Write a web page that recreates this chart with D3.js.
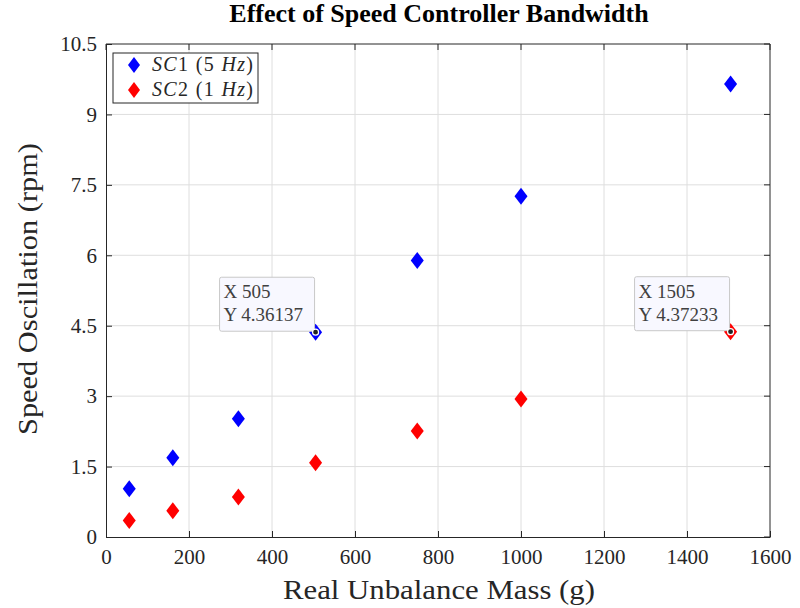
<!DOCTYPE html>
<html>
<head>
<meta charset="utf-8">
<script src="https://cdn.jsdelivr.net/npm/d3@7"></script>
<style>
body { margin: 0; background: #fff; }
text { font-family: "Liberation Serif", "DejaVu Serif", serif; fill: #262626; }
</style>
</head>
<body>
<script>
var mass = [56, 161, 319, 505, 750, 1000, 1505];
var sc1 = [1.03, 1.69, 2.52, 4.36137, 5.89, 7.26, 9.65];
var sc2 = [0.35, 0.56, 0.85, 1.58, 2.26, 2.94, 4.37233];
var xTicks = [0, 200, 400, 600, 800, 1000, 1200, 1400, 1600];
var yTicks = [0, 1.5, 3, 4.5, 6, 7.5, 9, 10.5];
var seriesNames = ["SC1", "SC2"];
var seriesFreq = ["5", "1"];
var seriesColors = ["#0000ff", "#ff0000"];
var tips = [{x: 505, y: 4.36137, s: 0}, {x: 1505, y: 4.37233, s: 1}];

var width = 800, height = 608,
    margin = {left: 106, right: 30, top: 44, bottom: 71};

var x = d3.scaleLinear().domain([0, 1600]).range([margin.left, width - margin.right]);
var y = d3.scaleLinear().domain([0, 10.5]).range([height - margin.bottom, margin.top]);

var svg = d3.select("body").append("svg")
    .attr("width", width)
    .attr("height", height);

// grid
svg.append("g").selectAll("line").data(xTicks.slice(1, -1))
    .enter().append("line")
    .attr("x1", function(d) { return x(d); }).attr("x2", function(d) { return x(d); })
    .attr("y1", y(0)).attr("y2", y(10.5))
    .style("stroke", "#dedede").style("stroke-width", 1);
svg.append("g").selectAll("line").data(yTicks.slice(1, -1))
    .enter().append("line")
    .attr("y1", function(d) { return y(d); }).attr("y2", function(d) { return y(d); })
    .attr("x1", x(0)).attr("x2", x(1600))
    .style("stroke", "#dedede").style("stroke-width", 1);

// axes
var xAxis = svg.append("g")
    .attr("transform", "translate(0," + y(0) + ")")
    .call(d3.axisBottom(x).tickValues(xTicks).tickSizeInner(-6).tickSizeOuter(0).tickPadding(12)
        .tickFormat(function(d) { return d; }));
var yAxis = svg.append("g")
    .attr("transform", "translate(" + x(0) + ",0)")
    .call(d3.axisLeft(y).tickValues(yTicks).tickSizeInner(-6).tickSizeOuter(0).tickPadding(9)
        .tickFormat(function(d) { return d; }));
[xAxis, yAxis].forEach(function(a) {
    a.selectAll("path, line").style("stroke", "#262626");
    a.selectAll("text").style("font-size", "21px").style("fill", "#262626")
        .style("font-family", "'Liberation Serif', serif");
});
// top and right box edges
svg.append("path")
    .attr("d", "M" + x(0) + "," + y(10.5) + "H" + x(1600) + "V" + y(0))
    .style("fill", "none").style("stroke", "#262626");
svg.append("g").selectAll("line").data(xTicks)
    .enter().append("line")
    .attr("x1", function(d) { return x(d); }).attr("x2", function(d) { return x(d); })
    .attr("y1", y(10.5)).attr("y2", y(10.5) + 6)
    .style("stroke", "#262626");
svg.append("g").selectAll("line").data(yTicks)
    .enter().append("line")
    .attr("y1", function(d) { return y(d); }).attr("y2", function(d) { return y(d); })
    .attr("x1", x(1600)).attr("x2", x(1600) - 6)
    .style("stroke", "#262626");

// diamonds
function diamond(w, h) {
    return "M0," + (-h) + "L" + w + ",0L0," + h + "L" + (-w) + ",0Z";
}
[sc1, sc2].forEach(function(vals, s) {
    svg.append("g").selectAll("path").data(vals)
        .enter().append("path")
        .attr("transform", function(d, i) { return "translate(" + x(mass[i]) + "," + y(d) + ")"; })
        .attr("d", diamond(6.5, 8.5))
        .style("fill", seriesColors[s]);
});

// data tips
tips.forEach(function(t) {
    var px = x(t.x), py = y(t.y);
    var g = svg.append("g");
    g.append("rect")
        .attr("x", px - 96).attr("y", py - 55)
        .attr("width", 95).attr("height", 54)
        .attr("rx", 2)
        .style("fill", "#f8f8ff").style("stroke", "#c8c8c8");
    g.append("text").attr("x", px - 92).attr("y", py - 34)
        .style("font-size", "19px").style("fill", "#404040").text("X " + t.x);
    g.append("text").attr("x", px - 92).attr("y", py - 11)
        .style("font-size", "19px").style("fill", "#404040").text("Y " + t.y);
    g.append("circle").attr("cx", px).attr("cy", py).attr("r", 3)
        .style("fill", "#222").style("stroke", "#fff").style("stroke-width", 1.2);
});

// legend
var leg = svg.append("g").attr("transform", "translate(113,53)");
leg.append("rect").attr("width", 145).attr("height", 50)
    .style("fill", "#fff").style("stroke", "#262626");
seriesNames.forEach(function(n, i) {
    var row = leg.append("g").attr("transform", "translate(21," + (12 + i * 25) + ")");
    row.append("path").attr("d", diamond(6, 8)).style("fill", seriesColors[i]);
    var t = row.append("text").attr("x", 18).attr("y", 6).style("font-size", "20px")
        .attr("textLength", 101).attr("lengthAdjust", "spacing");
    t.append("tspan").style("font-style", "italic").text(n.slice(0, 2));
    t.append("tspan").text(n.slice(2) + " (" + seriesFreq[i] + " ");
    t.append("tspan").style("font-style", "italic").text("Hz");
    t.append("tspan").text(")");
});

// titles
svg.append("text").attr("x", 439).attr("y", 22)
    .attr("text-anchor", "middle")
    .style("font-size", "26px").style("font-weight", "bold").style("fill", "#000")
    .text("Effect of Speed Controller Bandwidth");
svg.append("text").attr("x", 439).attr("y", 599)
    .attr("text-anchor", "middle")
    .attr("textLength", 312).attr("lengthAdjust", "spacingAndGlyphs")
    .style("font-size", "28px")
    .text("Real Unbalance Mass (g)");
svg.append("text").attr("transform", "translate(37,289) rotate(-90)")
    .attr("text-anchor", "middle")
    .attr("textLength", 292).attr("lengthAdjust", "spacingAndGlyphs")
    .style("font-size", "28px")
    .text("Speed Oscillation (rpm)");
</script>
</body>
</html>
